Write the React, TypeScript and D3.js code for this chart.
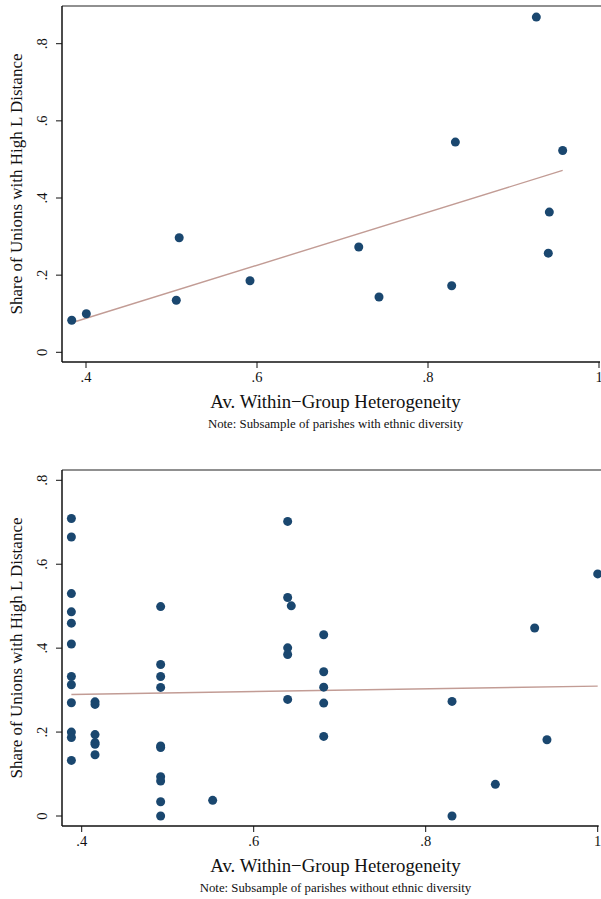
import React, { useEffect, useRef } from "react";
import * as d3 from "d3";

// panel 1: parishes with ethnic diversity
const topX = [0.3833, 0.4004, 0.509, 0.5056, 0.5918, 0.9267, 0.832, 0.9575, 0.9419, 0.719, 0.9407, 0.8277, 0.7427];
const topY = [0.083, 0.1, 0.297, 0.135, 0.1855, 0.869, 0.545, 0.523, 0.3635, 0.273, 0.257, 0.1725, 0.1433];
const topFitX = [0.3833, 0.9575];
const topFitY = [0.0767, 0.4715];

// panel 2: parishes without ethnic diversity
const bottomX = [
  0.388, 0.388, 0.388, 0.388, 0.388, 0.388, 0.388, 0.388, 0.388, 0.388, 0.388, 0.388,
  0.4155, 0.4155, 0.4155, 0.4155, 0.4155, 0.4155,
  0.4918, 0.4918, 0.4918, 0.4918, 0.4918, 0.4918, 0.4918, 0.4918, 0.4918, 0.4918,
  0.5523,
  0.6395, 0.6395, 0.6395, 0.6395, 0.6395, 0.6437,
  0.6814, 0.6814, 0.6814, 0.6814, 0.6814,
  0.8306, 0.8306, 0.881, 0.9267, 0.941, 1.0,
];
const bottomY = [
  0.709, 0.665, 0.53, 0.4865, 0.4595, 0.41, 0.3325, 0.3127, 0.27, 0.2, 0.187, 0.1325,
  0.272, 0.266, 0.194, 0.175, 0.171, 0.146,
  0.499, 0.361, 0.3325, 0.3064, 0.167, 0.163, 0.0937, 0.0833, 0.034, 0,
  0.0373,
  0.702, 0.5207, 0.4008, 0.385, 0.2778, 0.5008,
  0.4318, 0.3437, 0.307, 0.269, 0.1897,
  0.273, 0, 0.0754, 0.448, 0.1817, 0.577,
];
const bottomFitX = [0.388, 1.0];
const bottomFitY = [0.2897, 0.3095];

const xTicks = [0.4, 0.6, 0.8, 1];
const xTickLabels = [".4", ".6", ".8", "1"];
const yTicks = [0, 0.2, 0.4, 0.6, 0.8];
const yTickLabels = ["0", ".2", ".4", ".6", ".8"];

const yTitle = "Share of Unions with High L Distance";
const xTitle = "Av. Within\u2212Group Heterogeneity";
const notes = [
  "Note: Subsample of parishes with ethnic diversity",
  "Note: Subsample of parishes without ethnic diversity",
];

const FONT = "'Liberation Serif', 'Times New Roman', serif";
const DOT = "#1a476f";
const FIT = "#c29c95";

const panels = [
  { xs: topX, ys: topY, fx: topFitX, fy: topFitY, note: notes[0], left: 62, top: 6, bottom: 362, xr: [86, 599], yr: [352.3, 43.7] },
  { xs: bottomX, ys: bottomY, fx: bottomFitX, fy: bottomFitY, note: notes[1], left: 62, top: 470, bottom: 826, xr: [81.7, 597.7], yr: [816, 480.3] },
];

function drawPanel(g, p) {
  const x = d3.scaleLinear().domain([0.4, 1]).range(p.xr);
  const y = d3.scaleLinear().domain([0, 0.8]).range(p.yr);
  const right = 601;
  const cx = (p.left + right) / 2 + 4;

  // frame
  g.append("line").attr("x1", p.left).attr("x2", right).attr("y1", p.top).attr("y2", p.top)
    .attr("stroke", "#222").attr("stroke-width", 1.2);
  g.append("line").attr("x1", p.left).attr("x2", p.left).attr("y1", p.top).attr("y2", p.bottom)
    .attr("stroke", "#111").attr("stroke-width", 1.5);
  g.append("line").attr("x1", p.left).attr("x2", p.xr[1] + 1).attr("y1", p.bottom).attr("y2", p.bottom)
    .attr("stroke", "#111").attr("stroke-width", 1.5);

  // x ticks
  const xt = g.selectAll(".xt").data(xTicks).join("g").attr("class", "xt");
  xt.append("line").attr("x1", (d) => x(d)).attr("x2", (d) => x(d))
    .attr("y1", p.bottom).attr("y2", p.bottom + 6).attr("stroke", "#111").attr("stroke-width", 1);
  xt.append("text").attr("x", (d) => x(d)).attr("y", p.bottom + 20)
    .attr("text-anchor", "middle").attr("font-family", FONT).attr("font-size", 14.5).attr("fill", "#111")
    .text((d, i) => xTickLabels[i]);

  // y ticks
  const yt = g.selectAll(".yt").data(yTicks).join("g").attr("class", "yt");
  yt.append("line").attr("x1", p.left - 6).attr("x2", p.left)
    .attr("y1", (d) => y(d)).attr("y2", (d) => y(d)).attr("stroke", "#111").attr("stroke-width", 1);
  yt.append("text")
    .attr("transform", (d) => `translate(${p.left - 15},${y(d)}) rotate(-90)`)
    .attr("text-anchor", "middle").attr("font-family", FONT).attr("font-size", 14.5).attr("fill", "#111")
    .text((d, i) => yTickLabels[i]);

  // titles
  g.append("text")
    .attr("transform", `translate(22,${(p.top + p.bottom) / 2}) rotate(-90)`)
    .attr("text-anchor", "middle").attr("font-family", FONT).attr("font-size", 17).attr("fill", "#111")
    .text(yTitle);
  g.append("text").attr("x", cx).attr("y", p.bottom + 46)
    .attr("text-anchor", "middle").attr("font-family", FONT).attr("font-size", 18.8).attr("fill", "#111")
    .text(xTitle);
  g.append("text").attr("x", cx).attr("y", p.bottom + 66)
    .attr("text-anchor", "middle").attr("font-family", FONT).attr("font-size", 12.8).attr("fill", "#111")
    .text(p.note);

  // fitted line
  const line = d3.line().x((d) => x(d[0])).y((d) => y(d[1]));
  g.append("path").datum(d3.zip(p.fx, p.fy)).attr("d", line)
    .attr("fill", "none").attr("stroke", FIT).attr("stroke-width", 1.4);

  // points
  g.selectAll(".pt").data(d3.zip(p.xs, p.ys)).join("circle").attr("class", "pt")
    .attr("cx", (d) => x(d[0])).attr("cy", (d) => y(d[1])).attr("r", 4.5).attr("fill", DOT);
}

export default function App() {
  const svgRef = useRef(null);

  useEffect(() => {
    const svg = d3.select(svgRef.current);
    svg.selectAll("*").remove();
    panels.forEach((p) => drawPanel(svg.append("g"), p));
  }, []);

  return (
    <svg
      ref={svgRef}
      width={601}
      height={899}
      style={{ position: "absolute", left: 0, top: 0, background: "#fff" }}
    />
  );
}
